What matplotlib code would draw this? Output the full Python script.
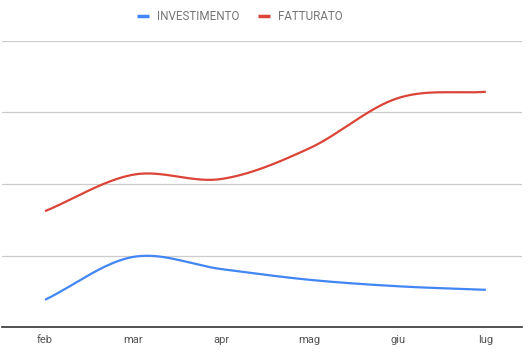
import numpy as np
import matplotlib
matplotlib.use("Agg")
import matplotlib.pyplot as plt
from matplotlib.lines import Line2D

months = ["feb", "mar", "apr", "mag", "giu", "lug"]
investimento = [380, 980, 810, 660, 570, 520]
fatturato = [1620, 2130, 2070, 2500, 3200, 3290]
series_names = ["INVESTIMENTO", "FATTURATO"]
colors = ["#4285F4", "#DB4437"]

plt.rcParams['font.family'] = ['Roboto', 'DejaVu Sans']

W, H = 531, 354
fig = plt.figure(figsize=(W / 100, H / 100), dpi=100)
ax = fig.add_axes([2 / W, 1 - 327 / H, 520 / W, (327 - 41) / H])


def smooth(xs, ys, n=40):
    xs = np.asarray(xs, float)
    ys = np.asarray(ys, float)
    m = len(xs)
    tang = np.zeros(m)
    for i in range(m):
        if i == 0:
            tang[i] = (ys[1] - ys[0]) / (xs[1] - xs[0])
        elif i == m - 1:
            tang[i] = (ys[-1] - ys[-2]) / (xs[-1] - xs[-2])
        else:
            tang[i] = (ys[i + 1] - ys[i - 1]) / (xs[i + 1] - xs[i - 1])
    ox, oy = [], []
    for i in range(m - 1):
        h = xs[i + 1] - xs[i]
        t = np.linspace(0, 1, n, endpoint=(i == m - 2))
        h00 = 2 * t**3 - 3 * t**2 + 1
        h10 = t**3 - 2 * t**2 + t
        h01 = -2 * t**3 + 3 * t**2
        h11 = t**3 - t**2
        ox.extend(xs[i] + t * h)
        oy.extend(h00 * ys[i] + h10 * h * tang[i] + h01 * ys[i + 1] + h11 * h * tang[i + 1])
    return np.array(ox), np.array(oy)


x = np.arange(len(months))
for vals, c in zip([investimento, fatturato], colors):
    sx, sy = smooth(x, vals)
    ax.plot(sx, sy, color=c, lw=1.6, solid_capstyle='butt', zorder=3)

ax.set_xlim(-0.4875, 5.41)
ax.set_ylim(0, 4000)
ax.set_yticks([1000, 2000, 3000, 4000])
ax.yaxis.grid(True, color="#cccccc", lw=0.9)
ax.axhline(0, color="#333333", lw=1.2, zorder=4, clip_on=False)
ax.set_yticklabels([])
ax.tick_params(axis='y', length=0)
ax.set_xticks(x)
ax.set_xticklabels(months, color="#555555", fontsize=8)
ax.tick_params(axis='x', length=0, pad=6)
for s in ax.spines.values():
    s.set_visible(False)
ax.set_axisbelow(True)

# legend
ly = 1 - 16 / H
fig.add_artist(Line2D([137 / W, 149 / W], [ly, ly], color=colors[0], lw=2.5, solid_capstyle='butt'))
fig.text(157 / W, ly, series_names[0], color="#757575", fontsize=8.4, va='center', ha='left')
fig.add_artist(Line2D([258 / W, 270 / W], [ly, ly], color=colors[1], lw=2.5, solid_capstyle='butt'))
fig.text(278 / W, ly, series_names[1], color="#757575", fontsize=8.4, va='center', ha='left')

fig.savefig("out.png", dpi=100, facecolor="white")
